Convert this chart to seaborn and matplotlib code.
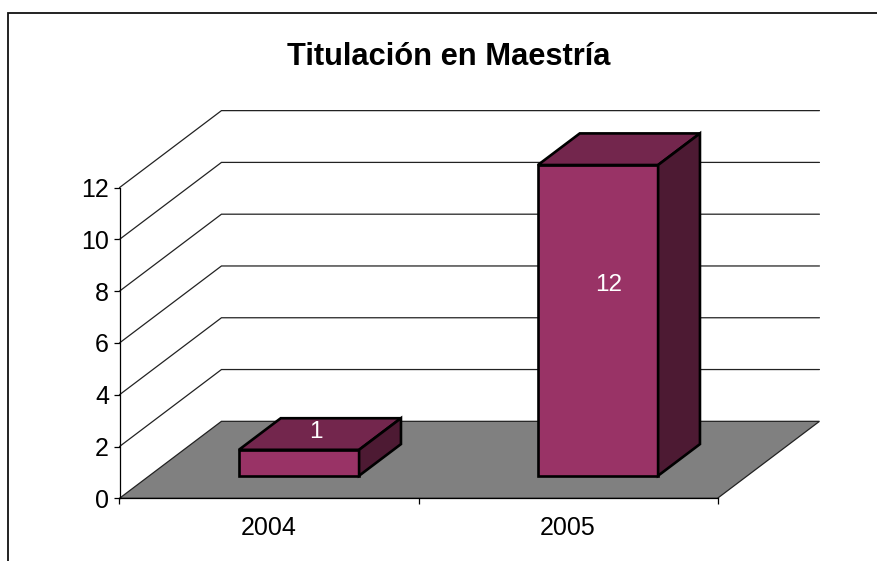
import matplotlib
matplotlib.use('Agg')
import matplotlib.pyplot as plt
from matplotlib.lines import Line2D
from matplotlib.patches import Polygon
import seaborn as sns

years = ['2004', '2005']
values = [1, 12]
y_ticks = [0, 2, 4, 6, 8, 10, 12]

FRONT = '#993366'
TOP = '#73264d'
SIDE = '#4d1a33'
FLOOR = '#808080'
W, H = 877, 561

sns.set_theme(style='white')
plt.rcParams['font.family'] = ['Liberation Sans', 'DejaVu Sans']

fig = plt.figure(figsize=(W / 100, H / 100), dpi=100, facecolor='white')

# outer frame, only top and left are visible in the source
fig.add_artist(Line2D([7.5 / W, 7.5 / W, 1], [0, 1 - 13.3 / H, 1 - 13.3 / H], color='#111111', lw=1.3,
                      solid_joinstyle='miter'))

# back axes: floor, walls, ticks
ax = fig.add_axes([119.5 / W, (H - 498.3) / H, 598 / W, 310.7 / H], facecolor='none')
ax.set_xlim(-0.5, 1.5)
ax.set_ylim(0, 12)
depth_x, depth_y = 0.341, 2.973

ax.add_patch(Polygon([(-0.5, 0), (1.5, 0), (1.5 + depth_x, depth_y), (-0.5 + depth_x, depth_y)],
                     closed=True, facecolor=FLOOR, edgecolor='#222222', lw=0.9, clip_on=False))
for v in y_ticks[1:]:
    ax.plot([-0.5, -0.5 + depth_x, 1.5 + depth_x], [v, v + depth_y, v + depth_y],
            color='#222222', lw=0.9, clip_on=False, solid_joinstyle='miter')

sns.despine(ax=ax)
for side in ['left', 'bottom']:
    ax.spines[side].set_linewidth(0.9)
    ax.spines[side].set_color('black')
ax.set_yticks(y_ticks)
ax.set_xticks([-0.5, 0.5, 1.5])
ax.set_xticklabels([])
ax.set_xticks([0, 1], labels=years, minor=True)
ax.tick_params(axis='y', left=True, length=4.5, width=0.9, pad=3, labelsize=18, colors='black')
ax.tick_params(axis='x', which='major', bottom=True, length=4.5, width=0.9, color='black')
ax.tick_params(axis='x', which='minor', bottom=False, length=0, pad=13, labelsize=18, labelcolor='black')

# front axes: same scale, slid into the floor so the bars stand on it
bar_ax = fig.add_axes([149.5 / W, (H - 475.7) / H, 598 / W, 310.7 / H], facecolor='none')
sns.barplot(x=years, y=values, color=FRONT, saturation=1, width=0.402,
            edgecolor='black', linewidth=1.9, ax=bar_ax, zorder=3, clip_on=False)
bar_ax.set_xlim(-0.5, 1.5)
bar_ax.set_ylim(0, 12)
bar_ax.axis('off')

bar_dx, bar_dy = 0.14, 1.22
for bar in bar_ax.patches:
    bar.set_joinstyle('miter')
    x0 = bar.get_x()
    x1 = x0 + bar.get_width()
    h = bar.get_height()
    bar_ax.add_patch(Polygon([(x0, h), (x1, h), (x1 + bar_dx, h + bar_dy), (x0 + bar_dx, h + bar_dy)],
                             closed=True, facecolor=TOP, edgecolor='black', lw=1.9,
                             clip_on=False, joinstyle='miter', zorder=3))
    bar_ax.add_patch(Polygon([(x1, 0), (x1 + bar_dx, bar_dy), (x1 + bar_dx, h + bar_dy), (x1, h)],
                             closed=True, facecolor=SIDE, edgecolor='black', lw=1.9,
                             clip_on=False, joinstyle='miter', zorder=3))

# value labels sit off the front face, a bit up and right
for i, (v, dx, dy) in enumerate(zip(values, [17, 11], [31, 35])):
    bar_ax.annotate(str(v), (i, v / 2), xytext=(dx * 0.72, dy * 0.72), textcoords='offset points',
                    ha='center', va='center', color='white', fontsize=17.5, zorder=5)

fig.text(449 / W, 1 - 65 / H, 'Titulación en Maestría', ha='center', va='baseline',
         fontsize=22.2, fontweight='bold', color='black')

fig.savefig('out.png', dpi=100)
